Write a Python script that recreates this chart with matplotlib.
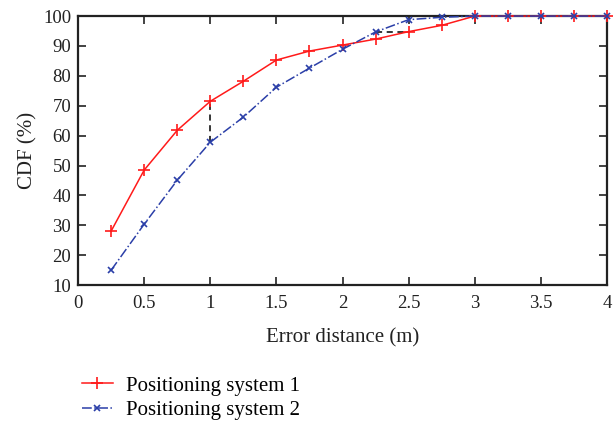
import matplotlib
matplotlib.use('Agg')
import matplotlib.pyplot as plt

plt.rcParams['font.family'] = ['Liberation Serif', 'DejaVu Serif']

dist = [0.25, 0.5, 0.75, 1.0, 1.25, 1.5, 1.75, 2.0, 2.25, 2.5, 2.75, 3.0, 3.25, 3.5, 3.75, 4.0]
cdf1 = [28.1, 48.5, 61.8, 71.5, 78.2, 85.3, 88.3, 90.3, 92.3, 94.8, 96.9, 100, 100, 100, 100, 100]
cdf2 = [15.0, 30.4, 45.1, 57.8, 66.2, 76.2, 82.6, 88.9, 94.7, 98.8, 99.6, 100, 100, 100, 100, 100]

fig = plt.figure(figsize=(6.15, 4.23), dpi=100)
ax = fig.add_axes([0.127, 0.326, 0.86, 0.636])

# gap markers
ax.plot([1.0, 1.0], [cdf2[3], cdf1[3]], color='black', lw=1.1, dashes=(4, 3))
ax.plot([2.25, 2.5], [cdf1[9], cdf1[9]], color='black', lw=1.1, dashes=(4, 3))

l1, = ax.plot(dist, cdf1, color='#ff1a1a', lw=1.1, marker='+', ms=8, mew=1.2,
              label='Positioning system 1', clip_on=False, zorder=3)
l2, = ax.plot(dist, cdf2, color='#2b3fa8', lw=1.1, ls='-.', marker='x', ms=4.5, mew=1.2,
              label='Positioning system 2', clip_on=False, zorder=4)

ax.set_xlim(0, 4)
ax.set_ylim(10, 100)
ax.set_xticks([0, 0.5, 1, 1.5, 2, 2.5, 3, 3.5, 4])
ax.set_xticklabels(['0', '0.5', '1', '1.5', '2', '2.5', '3', '3.5', '4'])
ax.set_yticks(range(10, 101, 10))
ax.tick_params(direction='in', top=True, right=True, labelsize=13.5, length=6, width=1.2,
               colors='#222222', pad=5)
ax.tick_params(axis='x', pad=7)
for s in ax.spines.values():
    s.set_linewidth(1.6)
    s.set_color('#222222')

ax.set_xlabel('Error distance (m)', fontsize=15, color='#222222', labelpad=12)
ax.set_ylabel('CDF (%)', fontsize=15, color='#222222', labelpad=4)

fig.legend(handles=[l1, l2], loc='upper left', bbox_to_anchor=(0.133, 0.111),
           frameon=False, fontsize=15, handlelength=1.5, handletextpad=0.6,
           labelspacing=0.25, borderpad=0, borderaxespad=0)

fig.savefig('out.png', dpi=100)
